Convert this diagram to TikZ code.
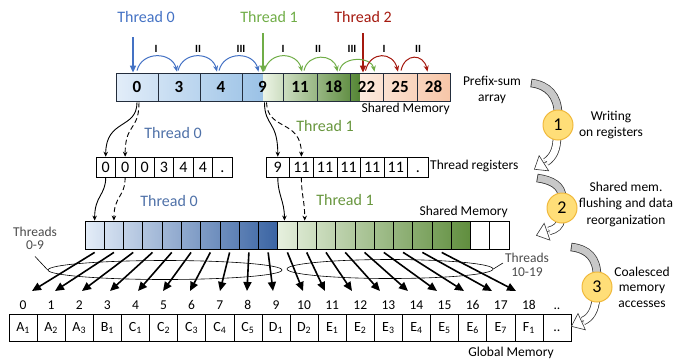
\documentclass[tikz,border=0pt]{standalone}
\usepackage{fontspec}
\setmainfont{Carlito}
\usetikzlibrary{arrows.meta,shapes.geometric}

\definecolor{tblue}{RGB}{68,114,196}
\definecolor{tgreen}{RGB}{112,173,71}
\definecolor{tred}{RGB}{165,25,15}
\definecolor{lblue}{RGB}{79,113,168}
\definecolor{lgreen}{RGB}{104,150,62}
\definecolor{pbA}{RGB}{226,237,249}
\definecolor{pbB}{RGB}{155,194,230}
\definecolor{pgA}{RGB}{236,244,229}
\definecolor{pgB}{RGB}{84,133,52}
\definecolor{prA}{RGB}{252,234,222}
\definecolor{prB}{RGB}{247,198,168}
\definecolor{sbA}{RGB}{228,237,248}
\definecolor{sbB}{RGB}{58,100,163}
\definecolor{sgA}{RGB}{230,240,222}
\definecolor{sgB}{RGB}{96,142,62}
\definecolor{circfill}{RGB}{255,222,120}
\definecolor{circline}{RGB}{240,185,60}
\definecolor{framec}{RGB}{35,45,60}
\definecolor{thrgray}{RGB}{75,75,75}
\definecolor{bandgray}{RGB}{200,200,200}

\begin{document}
\begin{tikzpicture}[x=1pt,y=-1pt,
  pcell/.style={draw=framec,line width=0.8pt,minimum height=28pt,inner sep=0pt,
    font=\bfseries\fontsize{17}{17}\selectfont},
  rcell/.style={draw,line width=0.6pt,minimum height=20pt,inner sep=0pt,
    text height=10.2pt,text depth=0pt,font=\fontsize{16}{16}\selectfont},
  scell/.style={draw,line width=0.8pt,minimum width=19.28pt,minimum height=28pt,inner sep=0pt},
  gcell/.style={draw,line width=0.6pt,minimum width=28.1pt,minimum height=27pt,inner sep=0pt,
    text height=9pt,text depth=2pt,font=\fontsize{14}{14}\selectfont},
  idx/.style={font=\fontsize{13.5}{14}\selectfont,inner sep=0pt,text height=8.6pt,text depth=0pt},
  note/.style={font=\fontsize{13.5}{16}\selectfont,align=center,inner sep=0pt},
  thr/.style={font=\fontsize{16}{16}\selectfont,inner sep=0pt},
  roman/.style={font=\bfseries\fontsize{11}{11}\selectfont,inner sep=0pt},
  hop/.style={line width=1pt,-{Stealth[length=6pt,width=5pt]}},
  feed/.style={line width=1.4pt,-{Triangle[length=7pt,width=6pt]}},
  copyarr/.style={line width=0.9pt,-{Stealth[length=5pt,width=4.5pt]}},
  bigarr/.style={line width=1.6pt,-{Triangle[length=9pt,width=8pt]}},
  ring/.style={draw,ellipse,line width=0.6pt,inner sep=0pt},
  badge/.style={circle,draw=circline,fill=circfill,line width=1pt,minimum size=30pt,
    inner sep=0pt,font=\fontsize{18}{18}\selectfont},
  bandout/.style={line width=8.5pt,draw=black!80},
  bandin/.style={line width=7pt},
  bandtip/.style={line width=0.6pt,draw=black!80,-{Triangle[length=12pt,width=19pt,fill=white]}},
]
\useasboundingbox (0,0) rectangle (675,360);

% ---------- prefix-sum array ----------
\shade[left color=pbA,right color=pbB] (116,73) rectangle (263,101);
\shade[left color=pgA,right color=pgB] (263,73) rectangle (360,101);
\shade[left color=prA,right color=prB] (360,73) rectangle (450,101);
\foreach \n/\a/\b/\v in {0/116/158/0,1/158/200/3,2/200/242/4,3/242/283/9,4/283/317/11,
                          5/317/350/18,6/350/383/22,7/383/417/25,8/417/450/28}{
  \pgfmathsetmacro\cw{\b-\a}
  \node[pcell,minimum width=\cw pt] (p\n) at ({(\a+\b)/2},87) {\v};
}
\node[note,anchor=east] (psm) at (450,109) {Shared Memory};
\node[note] (pfx) at (492,90) {Prefix-sum\\array};

% thread entry points
\node[thr,text=tblue] (t0) at (146,17) {Thread 0};
\node[thr,text=tgreen] (t1) at (269,17) {Thread 1};
\node[thr,text=tred] (t2) at (363,17) {Thread 2};
\coordinate (e0) at (133,37);
\coordinate (e1) at (263,33);
\coordinate (e2) at (363,33);
\draw[feed,tblue] (e0) -- (e0 |- p0.north);
\draw[feed,tgreen] (e1) -- (e1 |- p3.north);
\draw[feed,tred] (e2) -- (e2 |- p6.north);

% hops along the array
\draw[hop,tblue] ([yshift=2pt]p0.north) .. controls +(5,-20) and +(-5,-20) .. ([xshift=-2pt,yshift=1pt]p1.north);
\draw[hop,tblue] ([xshift=-1pt,yshift=2pt]p1.north) .. controls +(5,-20) and +(-5,-20) .. ([xshift=-4pt,yshift=1pt]p2.north);
\draw[hop,tblue] ([xshift=-2pt,yshift=2pt]p2.north) .. controls +(5,-20) and +(-5,-20) .. ([xshift=-4pt,yshift=1pt]p3.north);
\draw[hop,tgreen] ([xshift=2pt,yshift=2pt]p3.north) .. controls +(5,-20) and +(-5,-20) .. ([xshift=2pt,yshift=1pt]p4.north);
\draw[hop,tgreen] ([xshift=4pt,yshift=2pt]p4.north) .. controls +(4,-18) and +(-4,-18) .. ([xshift=4pt,yshift=1pt]p5.north);
\draw[hop,tgreen] ([xshift=6pt,yshift=2pt]p5.north) .. controls +(3,-15) and +(-3,-15) .. ([xshift=8pt,yshift=1pt]p6.north);
\draw[hop,tred] ([xshift=-1pt,yshift=2pt]p6.north) .. controls +(5,-20) and +(-5,-20) .. ([xshift=-2pt,yshift=1pt]p7.north);
\draw[hop,tred] ([xshift=1pt,yshift=2pt]p7.north) .. controls +(4,-18) and +(-4,-18) .. ([xshift=-6pt,yshift=1pt]p8.north);
\foreach \x/\r in {156/I,198/II,241/III,283/I,318/II,352/III,384/I,418/II}{
  \node[roman] at (\x,49) {\r};
}

% ---------- thread registers ----------
\foreach \i/\v in {0/0,1/0,2/0,3/3,4/4,5/4,6/.}{
  \node[rcell,minimum width=19.43pt] (r\i) at ({96+19.43*(\i+0.5)},167) {\v};
}
\foreach \i/\v in {0/9,1/11,2/11,3/11,4/11,5/11}{
  \node[rcell,minimum width=23.6pt] (q\i) at ({266+23.6*(\i+0.5)},167) {\v};
}
\node[rcell,minimum width=20.4pt] (q6) at (417.8,167) {.};
\node[note,anchor=west] (treg) at (430,166) {Thread registers};

\node[thr,text=lblue] (u0) at (173,133) {Thread 0};
\node[thr,text=lgreen] (u1) at (325,126) {Thread 1};

\draw[copyarr] ([yshift=-1pt]p0.south) .. controls +(0,27) and +(0,-38) .. (r0.north);
\draw[copyarr,dash pattern=on 5pt off 3pt] ([xshift=2pt,yshift=-1pt]p0.south) .. controls +(0,29) and +(0,-34) .. (r1.north);
\draw[copyarr] ([xshift=2pt,yshift=-1pt]p3.south) .. controls +(0,24) and +(0,-36) .. (q0.north);
\draw[copyarr,dash pattern=on 5pt off 3pt] ([xshift=4pt,yshift=-1pt]p3.south) .. controls +(1,29) and +(0,-38) .. (q1.north);

% ---------- shared memory ----------
\shade[left color=sbA,right color=sbB] (85,221) rectangle ({85+19.28*10},249);
\shade[left color=sgA,right color=sgB] ({85+19.28*10},221) rectangle ({85+19.28*20},249);
\foreach \i in {0,...,21}{
  \node[scell] (s\i) at ({85+19.28*(\i+0.5)},235) {};
}
\node[note,anchor=east] (ssm) at (508,212) {Shared Memory};
\node[thr,text=lblue] (v0) at (169,201) {Thread 0};
\node[thr,text=lgreen] (v1) at (345,200) {Thread 1};

\draw[copyarr] (r0.south) .. controls +(0,18) and +(0,-25) .. (s0.north);
\draw[copyarr,dash pattern=on 5pt off 3pt] (r1.south) .. controls +(0,20) and +(0,-25) .. (s1.north);
\draw[copyarr] (q0.south) .. controls +(0,18) and +(0,-20) .. ([xshift=-3pt]s10.north);
\draw[copyarr,dash pattern=on 5pt off 3pt] (q1.south) .. controls +(0,18) and +(0,-20) .. ([xshift=-2pt]s11.north);

% ---------- global memory ----------
\foreach \i/\v in {0/A\textsubscript{1},1/A\textsubscript{2},2/A\textsubscript{3},3/B\textsubscript{1},
  4/C\textsubscript{1},5/C\textsubscript{2},6/C\textsubscript{3},7/C\textsubscript{4},8/C\textsubscript{5},
  9/D\textsubscript{1},10/D\textsubscript{2},11/E\textsubscript{1},12/E\textsubscript{2},13/E\textsubscript{3},
  14/E\textsubscript{4},15/E\textsubscript{5},16/E\textsubscript{6},17/E\textsubscript{7},18/F\textsubscript{1},19/..}{
  \node[gcell] (g\i) at ({9+28.1*(\i+0.5)},327.5) {\v};
}
\foreach \i in {0,...,18}{
  \node[idx] (i\i) at ({9+28.1*(\i+0.5)},305) {\i};
}
\node[idx] (i19) at ({9+28.1*19.5},305) {..};
\node[note] (gmem) at (511,353) {Global Memory};

% coalesced write-out
\foreach \k/\tx in {0/32,1/55,2/82,3/110,4/138,5/163,6/190,7/220,8/247,9/273,
                     10/303,11/325,12/352,13/380,14/408,15/437,16/464,17/492,18/516}{
  \coordinate (h\k) at (\tx,291);
  \draw[bigarr] ([yshift=-3pt]s\k.south) -- (h\k);
}

\node[ring,minimum width=234pt,minimum height=19pt] (el0) at (165,270) {};
\node[ring,minimum width=206pt,minimum height=19pt] (el1) at (390,269) {};
\node[note,text=thrgray,font=\fontsize{13.5}{13}\selectfont] (th0) at (35,238) {Threads\\0-9};
\node[note,text=thrgray,font=\fontsize{13.5}{14}\selectfont] (th1) at (527,265) {Threads\\10-19};
\draw[line width=0.6pt] ([yshift=-7pt]th0.south) -- (el0.west);
\draw[line width=0.6pt] ([xshift=-2pt,yshift=2pt]th1.west) -- (el1.east);

% ---------- stage arrows ----------
% stage 1
\draw[bandout] (531,83) .. controls (548,85) and (558,96) .. (558,114);
\draw[bandin,bandgray,shorten <=0.8pt] (531,83) .. controls (548,85) and (558,96) .. (558,114);
\draw[bandout] (557,136) .. controls (557,150) and (553,157) .. (546,162);
\draw[bandin,white] (557,136) .. controls (557,150) and (553,157) .. (546,162);
\coordinate (k1) at (534,169.5);
\draw[bandtip] (547,161.3) -- (k1);
% stage 2
\draw[bandout] (537,178) .. controls (552,180) and (562,186) .. (562,197);
\draw[bandin,bandgray,shorten <=0.8pt] (537,178) .. controls (552,180) and (562,186) .. (562,197);
\draw[bandout] (561,219) .. controls (560,226) and (556,229) .. (549,231);
\draw[bandin,white] (561,219) .. controls (560,226) and (556,229) .. (549,231);
\coordinate (k2) at (536,235.5);
\draw[bandtip] (550,230.7) -- (k2);
% stage 3
\draw[bandout] (571,247) .. controls (588,249) and (597,258) .. (597,276);
\draw[bandin,bandgray,shorten <=0.8pt] (571,247) .. controls (588,249) and (597,258) .. (597,276);
\draw[bandout] (596,298) .. controls (595,311) and (590,318) .. (583,321);
\draw[bandin,white] (596,298) .. controls (595,311) and (590,318) .. (583,321);
\coordinate (k3) at (571,326.5);
\draw[bandtip] (584,320.6) -- (k3);

\node[badge] (c1) at (558,125) {1};
\node[badge] (c2) at (562,208) {2};
\node[badge] (c3) at (597,287) {3};
\node[note] (n1) at (611,125) {Writing\\on registers};
\node[note,font=\fontsize{13.5}{16.5}\selectfont] (n2) at (626,204) {Shared mem.\\flushing and data\\reorganization};
\node[note,font=\fontsize{13.5}{15.5}\selectfont] (n3) at (642,287) {Coalesced\\memory\\accesses};
\end{tikzpicture}
\end{document}
